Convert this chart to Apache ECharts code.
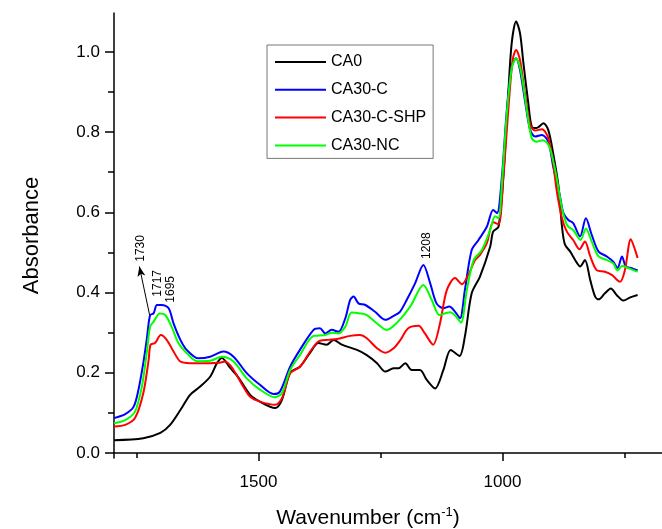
<!DOCTYPE html>
<html>
<head>
<meta charset="utf-8">
<script src="https://cdn.jsdelivr.net/npm/echarts@6/dist/echarts.min.js"></script>
<style>
html,body{margin:0;padding:0;background:#fff;}
#chart{width:662px;height:529px;}
</style>
</head>
<body>
<div id="chart"></div>
<script>
// ---- data (wavenumber cm-1, absorbance) ----
const seriesNames = ['CA0', 'CA30-C', 'CA30-C-SHP', 'CA30-NC'];
const seriesColors = ['#000000', '#0000ff', '#ff0000', '#00ff00'];

const wnCA0 = [1796,1736,1701,1681,1660,1640,1620,1599,1585,1575,1558,1542,1517,1497,1466,1452,1435,1415,1394,1377,1360,1346,1329,1298,1278,1257,1240,1223,1213,1199,1186,1169,1155,1138,1121,1106,1088,1077,1063,1046,1025,1019,1008,998,988,981,972,964,957,947,940,930,916,906,896,885,878,872,861,851,841,831,820,810,803,790,778,766,752,738,723];
const absCA0 = [0.032,0.037,0.05,0.07,0.107,0.145,0.165,0.19,0.224,0.237,0.212,0.19,0.145,0.128,0.112,0.132,0.2,0.215,0.25,0.274,0.27,0.282,0.27,0.257,0.244,0.224,0.203,0.211,0.211,0.224,0.207,0.207,0.182,0.161,0.207,0.257,0.242,0.29,0.398,0.44,0.515,0.552,0.564,0.69,0.897,1.022,1.076,1.047,0.972,0.872,0.814,0.81,0.822,0.805,0.747,0.664,0.565,0.52,0.502,0.481,0.465,0.481,0.431,0.39,0.383,0.398,0.41,0.394,0.38,0.388,0.394];

const wnC = [1796,1773,1756,1746,1736,1729,1722,1715,1708,1698,1684,1674,1660,1647,1623,1599,1572,1551,1524,1497,1469,1456,1435,1415,1387,1374,1363,1350,1336,1322,1312,1305,1295,1281,1261,1240,1223,1210,1196,1179,1162,1148,1135,1121,1109,1097,1087,1077,1063,1049,1032,1019,1011,1001,991,981,972,964,954,943,933,919,906,896,882,875,865,855,841,829,817,803,786,773,764,755,747,735,723];
const absC = [0.087,0.097,0.115,0.157,0.224,0.282,0.344,0.348,0.369,0.369,0.361,0.323,0.282,0.257,0.236,0.24,0.253,0.24,0.199,0.17,0.147,0.153,0.215,0.257,0.307,0.311,0.298,0.307,0.302,0.336,0.382,0.39,0.373,0.369,0.352,0.332,0.342,0.352,0.382,0.423,0.469,0.423,0.373,0.361,0.365,0.352,0.336,0.406,0.506,0.531,0.564,0.606,0.598,0.69,0.855,0.963,0.984,0.955,0.88,0.805,0.789,0.793,0.776,0.714,0.639,0.598,0.581,0.573,0.54,0.585,0.544,0.502,0.49,0.477,0.461,0.49,0.465,0.461,0.455];

const wnSHP = [1796,1773,1753,1736,1725,1721,1712,1700,1688,1674,1660,1640,1599,1582,1568,1551,1531,1517,1497,1466,1452,1435,1415,1394,1377,1357,1339,1312,1292,1278,1257,1240,1223,1210,1193,1172,1159,1142,1128,1114,1097,1083,1070,1056,1046,1032,1019,1008,998,988,979,972,964,954,943,933,919,906,896,889,878,868,855,842,831,820,807,790,776,759,749,737,728,723];
const absSHP = [0.066,0.07,0.087,0.149,0.232,0.27,0.274,0.294,0.282,0.253,0.228,0.224,0.224,0.225,0.228,0.207,0.165,0.14,0.128,0.12,0.136,0.199,0.215,0.253,0.278,0.282,0.284,0.292,0.294,0.286,0.261,0.25,0.261,0.28,0.311,0.317,0.298,0.27,0.323,0.406,0.436,0.421,0.444,0.481,0.494,0.523,0.575,0.57,0.69,0.855,0.98,1.005,0.98,0.897,0.818,0.804,0.807,0.785,0.722,0.656,0.585,0.552,0.531,0.508,0.527,0.49,0.456,0.452,0.444,0.427,0.456,0.533,0.506,0.486];

const wnNC = [1796,1773,1753,1739,1729,1722,1715,1702,1691,1678,1664,1647,1626,1599,1575,1551,1524,1497,1466,1452,1435,1415,1387,1363,1350,1336,1322,1309,1292,1278,1257,1237,1216,1189,1162,1145,1129,1118,1107,1095,1085,1073,1059,1042,1025,1015,1008,1001,991,981,972,962,950,940,930,917,904,892,878,870,865,855,840,829,817,803,786,773,764,755,742,723];
const absNC = [0.074,0.082,0.103,0.165,0.249,0.315,0.327,0.348,0.344,0.315,0.274,0.249,0.229,0.23,0.24,0.228,0.186,0.158,0.139,0.149,0.207,0.244,0.292,0.294,0.3,0.298,0.315,0.35,0.348,0.344,0.323,0.307,0.325,0.365,0.419,0.382,0.344,0.348,0.351,0.34,0.325,0.406,0.481,0.506,0.556,0.59,0.585,0.673,0.847,0.959,0.984,0.951,0.855,0.785,0.776,0.78,0.764,0.706,0.61,0.575,0.564,0.556,0.531,0.56,0.527,0.49,0.481,0.473,0.455,0.466,0.461,0.452];

// axis ticks
const xMajorTicks = [1000, 1500];
const xMinorTicks = [750, 1250, 1750];
const yMajorTicks = [0, 0.2, 0.4, 0.6, 0.8, 1.0];
const yMinorTicks = [0.1, 0.3, 0.5, 0.7, 0.9];

// peak annotations (text centre in data coords)
const annotLabels = ['1730', '1717', '1695', '1208'];
const annotWn = [1742, 1706, 1679, 1156];
const annotAbs = [0.51, 0.423, 0.408, 0.517];
// arrow from (wn, abs) to (wn, abs)
const arrowFrom = [1723, 0.344];
const arrowTo = [1744, 0.465];

// ---- chart ----
const FONT = 'Liberation Sans, Arial, Helvetica, sans-serif';
const zip = (a, b) => a.map((v, i) => [v, b[i]]);
const xs = [wnCA0, wnC, wnSHP, wnNC];
const ys = [absCA0, absC, absSHP, absNC];

const X_MIN = 673, X_MAX = 1796, Y_MIN = -0.0125, Y_MAX = 1.097;

const chart = echarts.init(document.getElementById('chart'), null, {renderer: 'canvas'});

const series = seriesNames.map((name, i) => {
  const s = {
    name: name,
    type: 'line',
    data: zip(xs[i], ys[i]),
    symbol: 'none',
    smooth: 0.3,
    lineStyle: {color: seriesColors[i], width: 2},
    itemStyle: {color: seriesColors[i]},
    z: 2 + i
  };
  if (i === 0) {
    s.markLine = {
      silent: true,
      symbol: ['none', 'arrow'],
      symbolSize: [6, 10],
      label: {show: false},
      lineStyle: {color: '#000', width: 1, type: 'solid'},
      data: [[{coord: arrowFrom}, {coord: arrowTo}]]
    };
  }
  return s;
});

const option = {
  animation: false,
  backgroundColor: '#fff',
  textStyle: {fontFamily: FONT},
  grid: {left: 114, right: 0, top: 13, bottom: 71, containLabel: false, outerBoundsMode: 'none'},
  legend: {
    orient: 'vertical',
    left: 267,
    top: 45,
    padding: [9, 7, 5, 8],
    icon: 'rect',
    itemWidth: 51,
    itemHeight: 2,
    itemGap: 11.8,
    borderColor: '#777',
    borderWidth: 1,
    data: seriesNames,
    textStyle: {fontSize: 16, lineHeight: 16, color: '#000', fontFamily: FONT}
  },
  xAxis: [{
    type: 'value',
    inverse: true,
    min: X_MIN, max: X_MAX,
    position: 'bottom',
    axisLine: {show: true, lineStyle: {color: '#000', width: 1.5}},
    axisTick: {show: true, customValues: xMajorTicks, length: 8, lineStyle: {color: '#000', width: 1.5}},
    axisLabel: {show: true, customValues: xMajorTicks, margin: 16, fontSize: 17, color: '#000', fontFamily: FONT,
      formatter: v => String(Math.round(v))},
    splitLine: {show: false},
    name: 'Wavenumber (cm{sup|-1})',
    nameLocation: 'middle',
    nameGap: 48,
    nameTextStyle: {
      fontSize: 21, color: '#000', fontFamily: FONT, lineHeight: 24,
      padding: [0, 40, 0, 0],
      rich: {sup: {fontSize: 13, verticalAlign: 'top', lineHeight: 14, color: '#000', fontFamily: FONT}}
    }
  }, {
    type: 'value',
    inverse: true,
    min: X_MIN, max: X_MAX,
    position: 'bottom',
    axisLine: {show: false},
    axisTick: {show: true, customValues: xMinorTicks, length: 5, lineStyle: {color: '#000', width: 1.5}},
    axisLabel: {show: false},
    splitLine: {show: false}
  }],
  yAxis: [{
    type: 'value',
    min: Y_MIN, max: Y_MAX,
    position: 'left',
    axisLine: {show: true, lineStyle: {color: '#000', width: 1.5}},
    axisTick: {show: true, customValues: yMajorTicks, length: 9, lineStyle: {color: '#000', width: 1.5}},
    axisLabel: {show: true, customValues: yMajorTicks, margin: 14, fontSize: 17, color: '#000', fontFamily: FONT,
      formatter: v => Number(v).toFixed(1)},
    splitLine: {show: false},
    name: 'Absorbance',
    nameLocation: 'middle',
    nameGap: 71,
    nameTextStyle: {fontSize: 22, color: '#000', fontFamily: FONT}
  }, {
    type: 'value',
    min: Y_MIN, max: Y_MAX,
    position: 'left',
    axisLine: {show: false},
    axisTick: {show: true, customValues: yMinorTicks, length: 6, lineStyle: {color: '#000', width: 1.5}},
    axisLabel: {show: false},
    splitLine: {show: false}
  }],
  series: series
};

chart.setOption(option);

// annotation texts placed through the axes' scales
const graphics = annotLabels.map((t, i) => {
  const p = chart.convertToPixel({xAxisIndex: 0, yAxisIndex: 0}, [annotWn[i], annotAbs[i]]);
  return {
    type: 'text',
    x: p[0], y: p[1],
    rotation: Math.PI / 2,
    silent: true,
    z: 100,
    style: {text: t, x: 0, y: 0, align: 'center', verticalAlign: 'middle',
      font: '12px ' + FONT, fill: '#000'}
  };
});
chart.setOption({graphic: graphics});
</script>
</body>
</html>
